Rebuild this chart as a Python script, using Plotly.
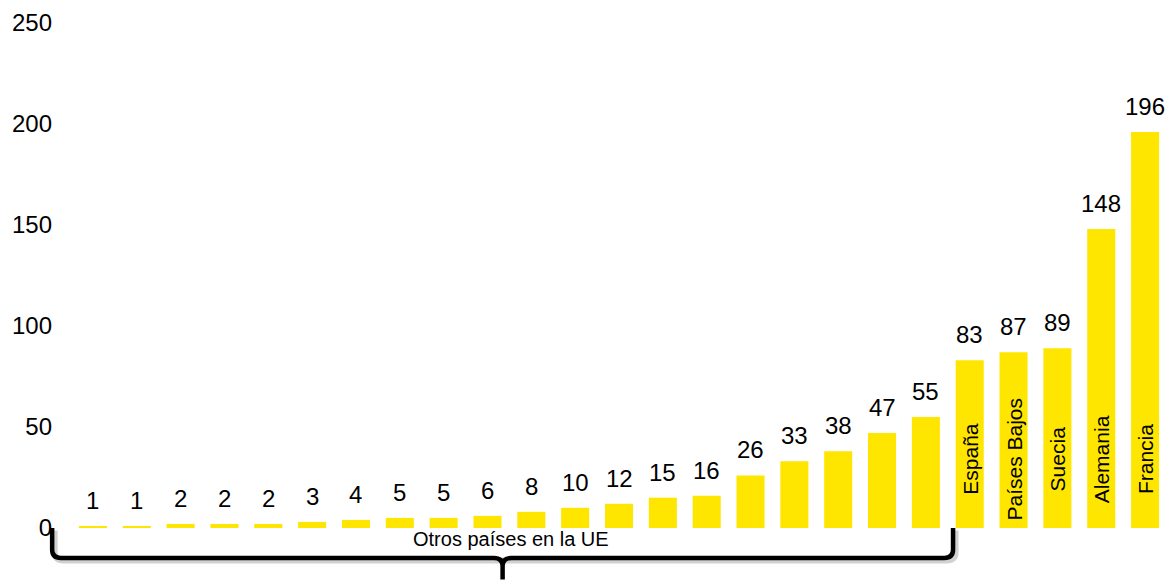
import plotly.graph_objects as go

# Values per country, sorted ascending
values = [1, 1, 2, 2, 2, 3, 4, 5, 5, 6, 8, 10, 12, 15, 16, 26, 33, 38, 47, 55,
          83, 87, 89, 148, 196]
# Only the five largest carry a name inside the bar
bar_names = [""] * 20 + ["España", "Países Bajos", "Suecia", "Alemania", "Francia"]
group_label = "Otros países en la UE"
group_size = 20
y_ticks = [0, 50, 100, 150, 200, 250]

YELLOW = "#FFE600"
FONT = "Liberation Sans, Arial, sans-serif"

W, H = 1167, 585
M = dict(l=71, r=0, t=23, b=57)
n = len(values)
ymax = 250
x = list(range(n))

plot_w = W - M["l"] - M["r"]
plot_h = H - M["t"] - M["b"]


def xp(v):
    """category units -> paper x"""
    return (v + 0.5) / n


def yp(v):
    """value units -> paper y"""
    return v / ymax


fig = go.Figure(go.Bar(
    x=x, y=values, marker=dict(color=YELLOW, line=dict(width=0)),
    width=0.64, hoverinfo="skip",
))

annotations = []
# value labels above each bar
for xi, v in zip(x, values):
    annotations.append(dict(
        x=xi, y=v, xref="x", yref="y", text=str(v), showarrow=False,
        yanchor="bottom", yshift=10, font=dict(size=24, color="#000", family=FONT),
    ))
# rotated names inside the tall bars
for xi, name in zip(x, bar_names):
    if name:
        annotations.append(dict(
            x=xi, y=0, xref="x", yref="y", text=name, showarrow=False,
            textangle=-90, yanchor="middle", yshift=69,
            font=dict(size=21, color="#000", family=FONT),
        ))

# brace spanning the smaller countries
bx0 = -0.93
bx1 = group_size - 1 + 0.62
bmid = (bx0 + bx1) / 2
ytop, yline, ytip = 0, -14.8, -25.5
rx, ry = 0.2, 4.0


def pt(a, b):
    return f"{xp(a):.5f},{yp(b):.5f}"


brace = (
    f"M {pt(bx0, ytop)} L {pt(bx0, yline + ry)} "
    f"Q {pt(bx0, yline)} {pt(bx0 + rx, yline)} "
    f"L {pt(bmid - rx, yline)} Q {pt(bmid, yline)} {pt(bmid, yline - ry)} "
    f"L {pt(bmid, ytip)} M {pt(bmid, yline - ry)} "
    f"Q {pt(bmid, yline)} {pt(bmid + rx, yline)} "
    f"L {pt(bx1 - rx, yline)} Q {pt(bx1, yline)} {pt(bx1, yline + ry)} "
    f"L {pt(bx1, ytop)}"
)
dx, dy = 2.5 / plot_w * n, -2.5 / plot_h * ymax
shadow = (
    f"M {pt(bx0 + dx, ytop + dy)} L {pt(bx0 + dx, yline + ry + dy)} "
    f"Q {pt(bx0 + dx, yline + dy)} {pt(bx0 + rx + dx, yline + dy)} "
    f"L {pt(bx1 - rx + dx, yline + dy)} Q {pt(bx1 + dx, yline + dy)} {pt(bx1 + dx, yline + ry + dy)} "
    f"L {pt(bx1 + dx, ytop + dy)}"
)
shapes = [
    dict(type="path", xref="paper", yref="paper", path=shadow,
         line=dict(color="rgba(0,0,0,0.18)", width=6), layer="below"),
    dict(type="path", xref="paper", yref="paper", path=brace,
         line=dict(color="#000", width=4.5)),
]

annotations.append(dict(
    x=xp(bmid + 0.2), y=yp(-5.4), xref="paper", yref="paper", text=group_label,
    showarrow=False, xanchor="center", yanchor="middle",
    font=dict(size=20, color="#000", family=FONT),
))

fig.update_layout(
    width=W, height=H, margin=M,
    paper_bgcolor="white", plot_bgcolor="white",
    showlegend=False,
    font=dict(family=FONT, color="#000"),
    xaxis=dict(range=[-0.5, n - 0.5], showticklabels=False, showgrid=False,
               zeroline=False, showline=False, ticks=""),
    yaxis=dict(range=[0, ymax], tickvals=y_ticks, showgrid=False, zeroline=False,
               showline=False, ticks="", ticklabelstandoff=18,
               tickfont=dict(size=24, color="#000", family=FONT)),
    annotations=annotations, shapes=shapes,
)

fig.write_html("out.html")
